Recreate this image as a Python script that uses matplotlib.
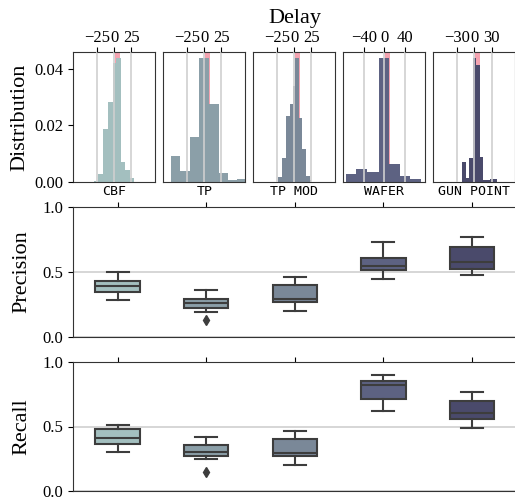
import numpy as np
import matplotlib
matplotlib.use("Agg")
import matplotlib.pyplot as plt

# datasets and colours
names = ["CBF", "TP", "TP MOD", "WAFER", "GUN POINT"]
colors = ["#a3bfbf", "#8b9fa8", "#7a8898", "#5d6282", "#4a4a6b"]

# delay histograms (bin edges and densities)
cbf_edges = [-29, -24.5, -17, -9, -1.2, 3.2, 9.4, 16, 23.3, 28.5]
cbf_dens = [0.0005, 0.0028, 0.0188, 0.0282, 0.0422, 0.0438, 0.0072, 0.0042, 0.0013]
tp_edges = [-49, -35, -21.5, -7.5, 7.5, 21, 35, 48.5, 62]
tp_dens = [0.0092, 0.0039, 0.0159, 0.044, 0.0276, 0.0033, 0.0007, 0.0012]
tpmod_edges = [-24, -18, -12, -6, -2.5, 1.5, 7, 12, 17, 22.5, 25]
tpmod_dens = [0.0019, 0.0086, 0.0235, 0.0276, 0.034, 0.0438, 0.0225, 0.0116, 0.0021, 0.0007]
wafer_edges = [-74, -54.5, -33.5, -11, 9.7, 30.3, 50.2, 71]
wafer_dens = [0.0029, 0.0046, 0.0037, 0.044, 0.0065, 0.0021, 0.0011]
gun_edges = [-21.5, -15, -9.5, -3, 2.7, 9, 15.5, 21.5, 27, 33, 39]
gun_dens = [0.0072, 0.0015, 0.0086, 0.0438, 0.0414, 0.009, 0.0007, 0.0007, 0.001, 0.001]

hist_edges = [cbf_edges, tp_edges, tpmod_edges, wafer_edges, gun_edges]
hist_dens = [cbf_dens, tp_dens, tpmod_dens, wafer_dens, gun_dens]
delay_ticks = [[-25, 0, 25], [-25, 0, 25], [-25, 0, 25], [-40, 0, 40], [-30, 0, 30]]
delay_lim = [60, 60, 60, 80, 70]

# box stats: whislo, q1, med, q3, whishi, fliers
prec_stats = [
    [0.283, 0.345, 0.39, 0.43, 0.50, []],
    [0.188, 0.224, 0.258, 0.289, 0.36, [0.129]],
    [0.201, 0.266, 0.289, 0.397, 0.464, []],
    [0.448, 0.518, 0.546, 0.61, 0.732, []],
    [0.474, 0.525, 0.58, 0.693, 0.77, []],
]
rec_stats = [
    [0.302, 0.367, 0.408, 0.477, 0.508, []],
    [0.251, 0.274, 0.302, 0.354, 0.415, [0.149]],
    [0.203, 0.272, 0.295, 0.40, 0.462, []],
    [0.618, 0.71, 0.82, 0.854, 0.90, []],
    [0.487, 0.556, 0.605, 0.70, 0.769, []],
]

plt.rcParams["font.family"] = "Liberation Serif"
plt.rcParams["mathtext.fontset"] = "stix"
dark = "#3d3d3d"
grid_c = "#cfcfcf"

fig = plt.figure(figsize=(5.15, 5.0), dpi=100)
W, H = 515.0, 500.0

# top row: histograms
hist_axes = []
for i in range(5):
    left = 73.3 + 90 * i
    ax = fig.add_axes([left / W, (H - 182) / H, 82 / W, 130 / H])
    hist_axes.append(ax)
    lim = delay_lim[i]
    ax.axvspan(0.01 * lim, 0.13 * lim, color="#f4a3b0", zorder=0.5, lw=0)
    ax.hist(hist_edges[i][:-1], bins=hist_edges[i], weights=hist_dens[i],
            color=colors[i], zorder=1)
    ax.set_xlim(-lim, lim)
    ax.set_ylim(0, 0.046)
    ax.set_xticks(delay_ticks[i])
    ax.xaxis.tick_top()
    ax.tick_params(axis="x", labelsize=12, length=3.5, pad=1)
    ax.grid(axis="x", color=grid_c, lw=1.2, zorder=2.5)
    ax.set_axisbelow(False)
    ax.set_xlabel(names[i], family="DejaVu Sans Mono", fontsize=9.5, labelpad=2)
    if i == 0:
        ax.set_yticks([0.0, 0.02, 0.04])
        ax.set_yticklabels(["0.00", "0.02", "0.04"])
        ax.tick_params(axis="y", labelsize=12, length=3.5)
        ax.set_ylabel("Distribution", fontsize=16, labelpad=4)
    else:
        ax.set_yticks([])
    for s in ax.spines.values():
        s.set_color("#333333")

fig.text(295 / W, 1 - 18 / H, "Delay", ha="center", va="center", fontsize=16)


def box_panel(ax, stats, label):
    bstats = []
    for s in stats:
        bstats.append(dict(whislo=s[0], q1=s[1], med=s[2], q3=s[3],
                           whishi=s[4], fliers=s[5]))
    bp = ax.bxp(bstats, positions=range(5), widths=0.5, patch_artist=True,
                boxprops=dict(edgecolor=dark, lw=1.5),
                medianprops=dict(color=dark, lw=1.5),
                whiskerprops=dict(color=dark, lw=1.5),
                capprops=dict(color=dark, lw=1.5),
                flierprops=dict(marker="d", markerfacecolor=dark,
                                markeredgecolor=dark, markersize=5))
    for patch, c in zip(bp["boxes"], colors):
        patch.set_facecolor(c)
    ax.set_xlim(-0.5, 4.5)
    ax.set_ylim(0, 1)
    ax.set_yticks([0.0, 0.5, 1.0])
    ax.set_yticklabels(["0.0", "0.5", "1.0"])
    ax.set_xticks(range(5))
    ax.xaxis.tick_top()
    ax.tick_params(axis="x", labeltop=False, length=3.5)
    ax.tick_params(axis="y", labelsize=12, length=3.5)
    ax.grid(axis="y", color=grid_c, lw=1.2)
    ax.set_axisbelow(True)
    ax.set_ylabel(label, fontsize=16, labelpad=8)
    for s in ax.spines.values():
        s.set_color("#333333")


ax_p = fig.add_axes([73.3 / W, (H - 336.7) / H, 443 / W, 129.4 / H])
box_panel(ax_p, prec_stats, "Precision")
ax_r = fig.add_axes([73.3 / W, (H - 491) / H, 443 / W, 129 / H])
box_panel(ax_r, rec_stats, "Recall")

fig.savefig("out.png", dpi=100)
